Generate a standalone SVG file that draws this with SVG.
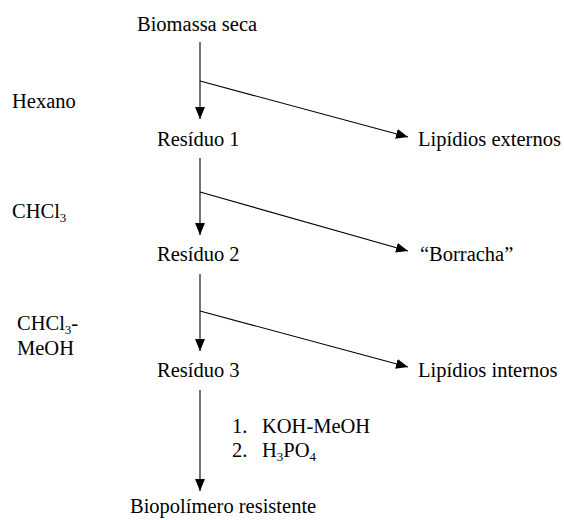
<svg xmlns="http://www.w3.org/2000/svg" width="564" height="520" viewBox="0 0 564 520">
<style>
text{font-family:"Liberation Serif","Times New Roman",serif;font-size:20.5px;fill:#000}
.sub{font-size:13px}
.c line{stroke:#000;stroke-width:1.1;fill:none}
</style>
<defs>
<marker id="ah" markerUnits="userSpaceOnUse" markerWidth="13" markerHeight="11" refX="12" refY="5" orient="auto">
<path d="M0,0 L12,5 L0,10 z" fill="#000"/>
</marker>
</defs>
<rect width="564" height="520" fill="#fff"/>
<g id="connectors" class="c">
<line x1="200" y1="42" x2="200" y2="119" marker-end="url(#ah)"/>
<line x1="200" y1="81" x2="408" y2="137" marker-end="url(#ah)"/>
<line x1="200" y1="158" x2="200" y2="235" marker-end="url(#ah)"/>
<line x1="200" y1="192" x2="408" y2="251" marker-end="url(#ah)"/>
<line x1="200" y1="274" x2="200" y2="351" marker-end="url(#ah)"/>
<line x1="200" y1="311" x2="408" y2="367" marker-end="url(#ah)"/>
<line x1="200" y1="390" x2="200" y2="491" marker-end="url(#ah)"/>
</g>
<g id="biomassa"><text x="137" y="31">Biomassa seca</text></g>
<g id="hexano"><text x="12" y="108">Hexano</text></g>
<g id="residuo1"><text x="157" y="146">Resíduo 1</text></g>
<g id="lipidios-externos"><text x="418" y="146">Lipídios externos</text></g>
<g id="chcl3"><text x="12" y="218">CHCl<tspan class="sub" dy="4">3</tspan></text></g>
<g id="residuo2"><text x="157" y="261">Resíduo 2</text></g>
<g id="borracha"><text x="420" y="261">“Borracha”</text></g>
<g id="chcl3-meoh"><text x="17" y="330">CHCl<tspan class="sub" dy="4">3</tspan><tspan dy="-4">-</tspan></text><text x="17" y="355">MeOH</text></g>
<g id="residuo3"><text x="157" y="377">Resíduo 3</text></g>
<g id="lipidios-internos"><text x="418" y="377">Lipídios internos</text></g>
<g id="reagentes">
<text x="232" y="433">1.</text><text x="262" y="433">KOH-MeOH</text>
<text x="232" y="457">2.</text><text x="262" y="457">H<tspan class="sub" dy="4">3</tspan><tspan dy="-4">PO</tspan><tspan class="sub" dy="4">4</tspan></text>
</g>
<g id="biopolimero"><text x="130" y="513">Biopolímero resistente</text></g>
</svg>
